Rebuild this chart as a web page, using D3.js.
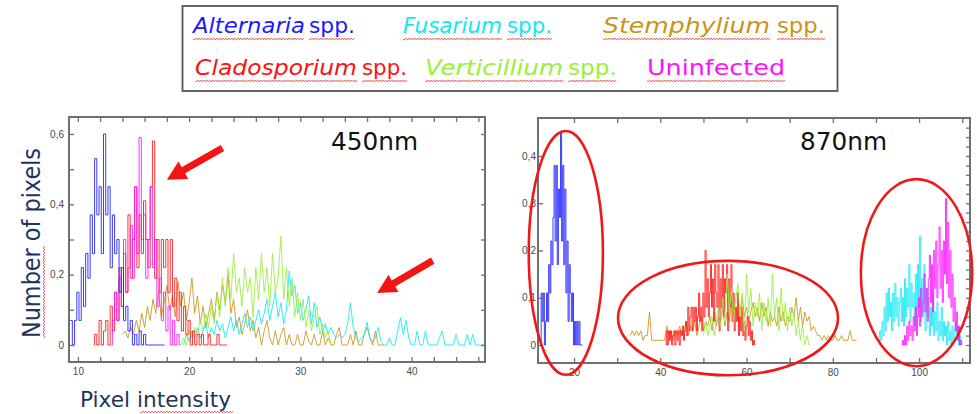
<!DOCTYPE html>
<html>
<head>
<meta charset="utf-8">
<script src="https://cdn.jsdelivr.net/npm/d3@7"></script>
<style>
  body { margin: 0; background: #fff; }
  svg { display: block; }
</style>
</head>
<body>
<svg id="chart" width="977" height="414"></svg>
<script>
// --- legend entries ---
const legendRow1 = ["Alternaria", "Fusarium", "Stemphylium"];
const legendRow2 = ["Cladosporium", "Verticillium", "Uninfected"];
const colors = {
  Alternaria: "#1a1aff",
  Fusarium: "#10e8f5",
  Stemphylium: "#c99418",
  Cladosporium: "#ff1010",
  Verticillium: "#99f03a",
  Uninfected: "#ff10ff"
};

// --- 450nm histograms (normalised pixel counts), bin start + bin width given per series below ---
const alt450 = [0.07,0.07,0,0.07,0.15,0.07,0.22,0.11,0.26,0.19,0.37,0.26,0.53,0.37,0.45,0.26,0.6,0.37,0.45,0.22,0.37,0.26,0.3,0.15,0.22,0.07,0.11,0.04,0.07,0,0.03,0,0.04,0,0.03,0,0,0,0,0,0,0,0,0];
const uninf450 = [0,0.07,0.15,0.07,0.19,0.11,0.3,0.15,0.22,0.34,0.19,0.45,0.26,0.59,0.3,0.37,0.19,0.3,0.45,0.22,0.3,0.11,0.19,0.07,0.15,0.04,0.11,0,0.07,0,0.03,0];
const clado450 = [0,0.03,0,0.07,0,0.04,0.07,0,0.11,0.04,0.15,0.07,0.22,0.11,0.26,0.15,0.37,0.19,0.3,0.45,0.22,0.37,0.26,0.41,0.3,0.22,0.45,0.58,0.19,0.3,0.15,0.3,0.22,0.3,0.15,0.3,0.11,0.19,0.07,0.15,0.04,0.11,0.03,0.07,0,0.04,0,0.03,0,0.03,0,0,0.03,0,0,0,0.03,0,0,0,0];
const stemph450 = [0.03,0.04,0.02,0.05,0.03,0.07,0.04,0.09,0.05,0.11,0.07,0.13,0.09,0.15,0.08,0.12,0.17,0.1,0.14,0.08,0.18,0.11,0.15,0.07,0.12,0.19,0.09,0.14,0.06,0.11,0.05,0.09,0.13,0.07,0.15,0.1,0.17,0.12,0.2,0.09,0.13,0.05,0.08,0.03,0.06,0.1,0.04,0.07,0.02,0.05,0,0.04,0.07,0.02,0,0.04,0,0.03,0.05,0,0.03,0,0,0.03,0,0,0.04,0.01,0,0.03,0,0,0.04,0,0.02,0,0,0.03,0.05,0,0,0,0.03,0,0.04,0,0,0.03,0.05,0.02,0,0.04,0,0,0];
const verti450 = [0,0.02,0,0.04,0.02,0.05,0.03,0.07,0.04,0.09,0.05,0.11,0.06,0.15,0.08,0.19,0.11,0.22,0.13,0.26,0.15,0.19,0.11,0.22,0.15,0.19,0.08,0.22,0.13,0.26,0.15,0.22,0.11,0.26,0.15,0.19,0.31,0.13,0.22,0.11,0.19,0.08,0.15,0.07,0.13,0.05,0.1,0.04,0.08,0.11,0.03,0.06,0.02,0.04,0,0];
const fusar450 = [0,0.03,0.01,0.04,0.02,0.05,0.02,0.04,0.06,0.02,0.05,0.03,0.07,0.04,0.06,0.02,0.05,0.08,0.04,0.07,0.03,0.06,0.09,0.05,0.08,0.04,0.07,0.1,0.06,0.09,0.13,0.07,0.11,0.15,0.08,0.12,0.06,0.1,0.21,0.14,0.17,0.09,0.12,0.07,0.1,0.14,0.06,0.12,0.05,0.08,0.04,0.06,0.03,0.05,
  0.03,0.02,0.03,0.02,0.03,0.06,0.12,0.05,0.02,0.01,0.02,0.03,0.065,0.02,0.01,0.02,0.05,0.01,0,0,0.02,0,0,0.04,0.077,0.03,0.07,0.02,0,0,0.04,0,0,0.04,0,0,0,0,0.02,0.04,0,0,0,0,0.03,0,0,0,0.03,0,0.03,0,0,0,0];

// --- 870nm histograms ---
const alt870 = [0,0.11,0.05,0.11,0,0.05,0.11,0.05,0.17,0.11,0.22,0.17,0.27,0.38,0.22,0.38,0.17,0.33,0.27,0.45,0.22,0.38,0.17,0.33,0.11,0.22,0.05,0.17,0.11,0.05,0.11,0,0.05,0,0.05,0,0.05,0,0,0];
const stemph870 = [0.02,0.03,0.02,0.03,0.02,0.03,0.01,0.02,0.02,0.07,0.01,0.01,0.01,0.01,0.01,0.01,0.01,0.04,0.02,0.03,0.01,0.03,0.02,0.04,0.02,0.03,0.05,0.02,0.04,0.03,0.05,0.02,0.04,0.06,0.03,0.05,0.04,0.06,0.03,0.07,0.04,0.06,0.05,0.08,0.04,0.07,0.05,0.09,0.06,0.08,0.05,0.07,0.1,0.06,0.08,0.05,0.07,0.09,0.06,0.08,0.05,0.09,0.06,0.08,0.04,0.07,0.05,0.06,0.04,0.08,0.05,0.07,0.04,0.06,0.05,0.08,0.06,0.1,0.05,0.08,0.04,0.07,0.05,0.06,0.03,0.04,0.03,0.02,0.02,0.01,0.02,0.01,0.02,0.01,0.01,0.02,0.01,0.01,0.02,0.01,0.01,0.01,0.03,0.01,0.01,0.01];
const clado870 = [0,0.03,0,0.03,0.01,0.03,0,0.02,0.03,0,0.03,0.01,0.03,0,0.03,0.02,0.04,0.01,0.03,0.05,0.02,0.08,0.03,0.06,0.08,0.03,0.08,0.05,0.08,0.03,0.06,0.11,0.05,0.08,0.03,0.11,0.06,0.2,0.08,0.14,0.06,0.11,0.17,0.08,0.14,0.05,0.17,0.11,0.08,0.17,0.03,0.14,0.08,0.17,0.06,0.14,0.11,0.17,0.03,0.14,0.08,0.17,0.05,0.11,0.03,0.08,0.05,0.11,0.02,0.06,0.03,0.08,0.02,0.05,0.01,0.04,0.06,0.02,0.05,0.01,0.03,0,0.01,0];
const verti870 = [0.02,0.05,0.02,0.04,0.06,0.02,0.05,0.08,0.04,0.1,0.05,0.15,0.07,0.12,0.05,0.1,0.13,0.06,0.11,0.03,0.15,0.07,0.12,0.04,0.09,0.06,0.11,0.03,0.09,0.05,0.1,0.04,0.15,0.06,0.1,0.03,0.12,0.05,0.09,0.03,0.08,0.04,0.07,0.02,0.05,0.01,0.04,0,0.02,0];
const fusar870 = [0,0.03,0.01,0.05,0.02,0.08,0.03,0.11,0.05,0.12,0.06,0.09,0.03,0.11,0.05,0.13,0.06,0.1,0.04,0.09,0.12,0.05,0.1,0.04,0.14,0.06,0.12,0.08,0.17,0.05,0.13,0.08,0.11,0.04,0.15,0.06,0.17,0.08,0.23,0.05,0.14,0.07,0.17,0.03,0.12,0.06,0.1,0.02,0.08,0.04,0.11,0.02,0.07,0.03,0.09,0.01,0.05,0.02,0.08,0.01,0.05,0.02,0.04,0,0.05,0.01,0.03,0,0.04,0.01,0.03,0.05,0.02,0.04,0,0.02,0];
const uninf870 = [0,0.01,0,0.02,0,0.04,0.01,0.05,0.02,0.04,0.01,0.06,0.03,0.08,0.02,0.06,0.1,0.04,0.12,0.06,0.09,0.15,0.07,0.12,0.05,0.14,0.19,0.09,0.17,0.07,0.2,0.12,0.22,0.1,0.17,0.25,0.12,0.2,0.09,0.22,0.15,0.31,0.13,0.26,0.1,0.2,0.08,0.15,0.05,0.1,0.03,0.07,0.01,0.04,0,0.01,0];

const svg = d3.select("#chart");
const FONT = "'DejaVu Sans', 'Open Sans', sans-serif";

// red spell-check squiggle
function squiggle(g, x1, x2, y) {
  let d = `M${x1},${y}`;
  let k = 0;
  for (let xx = x1 + 1.5; xx <= x2; xx += 1.5) {
    d += `L${xx},${y + (k++ % 2 ? -0.9 : 0.9)}`;
  }
  g.append("path").attr("d", d).attr("fill", "none")
    .attr("stroke", "#f03030").attr("stroke-width", 0.8);
}

// --- Legend box ---
const legend = svg.append("g");
legend.append("rect")
  .attr("x", 182.5).attr("y", 6).attr("width", 655).attr("height", 85)
  .attr("fill", "#fff").attr("stroke", "#555").attr("stroke-width", 1.8);

// placement of each word in the legend: [x, width]
const legendLayout = {
  Alternaria: { y: 33, genus: [193, 112], spp: [309, 46] },
  Fusarium: { y: 33, genus: [403, 99], spp: [507, 45] },
  Stemphylium: { y: 33, genus: [603, 167], spp: [777, 48] },
  Cladosporium: { y: 75, genus: [195, 162], spp: [362, 45] },
  Verticillium: { y: 75, genus: [425, 138], spp: [568, 49] },
  Uninfected: { y: 75, genus: [647, 138], spp: null }
};

legendRow1.concat(legendRow2).forEach(name => {
  const L = legendLayout[name];
  const isSpecies = L.spp !== null;
  legend.append("text")
    .attr("x", L.genus[0]).attr("y", L.y)
    .attr("textLength", L.genus[1]).attr("lengthAdjust", "spacingAndGlyphs")
    .style("font-family", FONT).style("font-size", "22px")
    .style("font-style", isSpecies ? "italic" : "normal")
    .attr("fill", colors[name]).text(name);
  squiggle(legend, L.genus[0], L.genus[0] + L.genus[1], L.y + 6);
  if (isSpecies) {
    legend.append("text")
      .attr("x", L.spp[0]).attr("y", L.y)
      .attr("textLength", L.spp[1]).attr("lengthAdjust", "spacingAndGlyphs")
      .style("font-family", FONT).style("font-size", "22px")
      .attr("fill", colors[name]).text("spp.");
    squiggle(legend, L.spp[0], L.spp[0] + L.spp[1], L.y + 6);
  }
});

const commaFmt = d => d === 0 ? "0" : d3.format(".1f")(d).replace(".", ",");

function drawPanel(p) {
  const x = d3.scaleLinear().domain(p.xDomain).range([p.left, p.right]);
  const y = d3.scaleLinear().domain(p.yDomain).range([p.bottom, p.top]);
  const g = svg.append("g");

  p.series.forEach(s => {
    const line = d3.line()
      .x((d, i) => x(s.x0 + i * s.step))
      .y(d => y(d))
      .curve(s.stepped ? d3.curveStep : d3.curveLinear);
    g.append("path")
      .datum(s.values)
      .attr("d", line)
      .attr("fill", "none")
      .attr("stroke", colors[s.name])
      .attr("stroke-width", 1)
      .attr("stroke-opacity", 0.85);
  });

  const axisStyle = sel => {
    sel.select(".domain").remove();
    sel.selectAll("line").attr("stroke", "#707070").attr("stroke-width", 1.3);
    sel.selectAll("text").attr("fill", "#4a4a4a")
      .style("font-family", "'Liberation Sans Narrow', 'Liberation Sans', sans-serif")
      .style("font-size", "10px");
  };

  const xt = d3.range(p.xMinorStart, p.xDomain[1], p.xMinorStep);
  g.append("g").attr("transform", `translate(0,${p.bottom})`)
    .call(d3.axisBottom(x).tickValues(xt).tickSizeInner(-5).tickSizeOuter(0).tickPadding(6)
      .tickFormat(d => p.xLabels.includes(Math.round(d)) && Math.abs(d - Math.round(d)) < 1e-6 ? Math.round(d) : ""))
    .call(axisStyle);
  g.append("g").attr("transform", `translate(0,${p.top})`)
    .call(d3.axisTop(x).tickValues(xt).tickSizeInner(-5).tickSizeOuter(0).tickFormat(""))
    .call(axisStyle);

  g.append("g").attr("transform", `translate(${p.left},0)`)
    .call(d3.axisLeft(y).tickValues(p.yTicks).tickSizeInner(-5).tickSizeOuter(0).tickPadding(p.yPad)
      .tickFormat(d => p.yLabels.some(v => Math.abs(v - d) < 1e-6) ? commaFmt(d) : ""))
    .call(axisStyle);
  g.append("g").attr("transform", `translate(${p.right},0)`)
    .call(d3.axisRight(y).tickValues(p.yRightTicks).tickSizeOuter(0).tickFormat("")
      .tickSizeInner(-4))
    .call(axisStyle);

  g.append("rect")
    .attr("x", p.left).attr("y", p.top)
    .attr("width", p.right - p.left).attr("height", p.bottom - p.top)
    .attr("fill", "none").attr("stroke", "#707070").attr("stroke-width", 2);

  g.append("text")
    .attr("x", p.titleX).attr("y", 150)
    .attr("textLength", 87).attr("lengthAdjust", "spacingAndGlyphs")
    .style("font-family", FONT).style("font-size", "24px")
    .attr("fill", "#111").text(p.title);

  return { x, y, g };
}

// --- 450nm panel ---
const left = drawPanel({
  title: "450nm", titleX: 331,
  left: 69, right: 485, top: 117, bottom: 362,
  xDomain: [9.2, 46.6], yDomain: [-0.0483, 0.6483],
  xMinorStart: 10, xMinorStep: 2, xLabels: [10, 20, 30, 40],
  yTicks: [0, 0.1, 0.2, 0.3, 0.4, 0.5, 0.6], yLabels: [0, 0.2, 0.4, 0.6], yPad: 5,
  yRightTicks: [0, 0.1, 0.2, 0.3, 0.4, 0.5, 0.6],
  series: [
    { name: "Stemphylium", x0: 14.0, step: 0.25, values: stemph450 },
    { name: "Fusarium", x0: 19.5, step: 0.25, values: fusar450 },
    { name: "Verticillium", x0: 19.25, step: 0.25, values: verti450 },
    { name: "Cladosporium", x0: 11.4, step: 0.2, values: clado450, stepped: true },
    { name: "Uninfected", x0: 13.0, step: 0.2, values: uninf450, stepped: true },
    { name: "Alternaria", x0: 9.2, step: 0.2, values: alt450, stepped: true }
  ]
});

// --- 870nm panel ---
const right = drawPanel({
  title: "870nm", titleX: 800,
  left: 538, right: 970, top: 118, bottom: 363,
  xDomain: [11.65, 111.8], yDomain: [-0.0381, 0.4804],
  xMinorStart: 20, xMinorStep: 10, xLabels: [20, 40, 60, 80, 100],
  yTicks: [0, 0.1, 0.2, 0.3, 0.4], yLabels: [0, 0.1, 0.2, 0.3, 0.4], yPad: 2,
  yRightTicks: d3.range(0, 0.47, 0.02),
  series: [
    { name: "Stemphylium", x0: 33, step: 0.5, values: stemph870 },
    { name: "Cladosporium", x0: 41.25, step: 0.25, values: clado870, stepped: true },
    { name: "Verticillium", x0: 50, step: 0.5, values: verti870 },
    { name: "Fusarium", x0: 90.75, step: 0.25, values: fusar870, stepped: true },
    { name: "Uninfected", x0: 96, step: 0.25, values: uninf870, stepped: true },
    { name: "Alternaria", x0: 12.25, step: 0.25, values: alt870, stepped: true }
  ]
});

// --- axis titles ---
const yTitle = svg.append("g").attr("transform", "translate(40,338) rotate(-90)");
yTitle.append("text")
  .attr("x", 0).attr("y", 0)
  .attr("textLength", 190).attr("lengthAdjust", "spacingAndGlyphs")
  .style("font-family", FONT).style("font-size", "24px")
  .attr("fill", "#22345e").text("Number of pixels");
squiggle(yTitle, 0, 92, 4);

svg.append("text")
  .attr("x", 80).attr("y", 407)
  .attr("textLength", 151).attr("lengthAdjust", "spacingAndGlyphs")
  .style("font-family", FONT).style("font-size", "21px")
  .attr("fill", "#22345e").text("Pixel intensity");
squiggle(svg, 140, 233, 412);

// --- annotations: arrows on 450nm, ellipses on 870nm (data units) ---
const arrows450 = [
  { from: [23.0, 0.56], to: [18.0, 0.47] },
  { from: [41.9, 0.24], to: [36.9, 0.148] }
];
arrows450.forEach(a => {
  const x1 = left.x(a.from[0]), y1 = left.y(a.from[1]);
  const x2 = left.x(a.to[0]), y2 = left.y(a.to[1]);
  const ang = Math.atan2(y2 - y1, x2 - x1);
  const len = Math.hypot(x2 - x1, y2 - y1);
  const headL = 19, headW = 10, shaftW = 3.5;
  const pts = [
    [0, -shaftW], [len - headL, -shaftW], [len - headL, -headW],
    [len, 0], [len - headL, headW], [len - headL, shaftW], [0, shaftW]
  ];
  svg.append("polygon")
    .attr("points", pts.map(p => p.join(",")).join(" "))
    .attr("transform", `translate(${x1},${y1}) rotate(${ang * 180 / Math.PI})`)
    .attr("fill", "#f41414");
});

const ellipses870 = [
  { cx: 18.1, cy: 0.195, rx: 8.6, ry: 0.258 },
  { cx: 55.7, cy: 0.057, rx: 25.5, ry: 0.121 },
  { cx: 99.4, cy: 0.153, rx: 12.9, ry: 0.198 }
];
ellipses870.forEach(e => {
  svg.append("ellipse")
    .attr("cx", right.x(e.cx)).attr("cy", right.y(e.cy))
    .attr("rx", right.x(e.cx + e.rx) - right.x(e.cx))
    .attr("ry", right.y(0) - right.y(e.ry))
    .attr("fill", "none").attr("stroke", "#f01818").attr("stroke-width", 2.6);
});
</script>
</body>
</html>
